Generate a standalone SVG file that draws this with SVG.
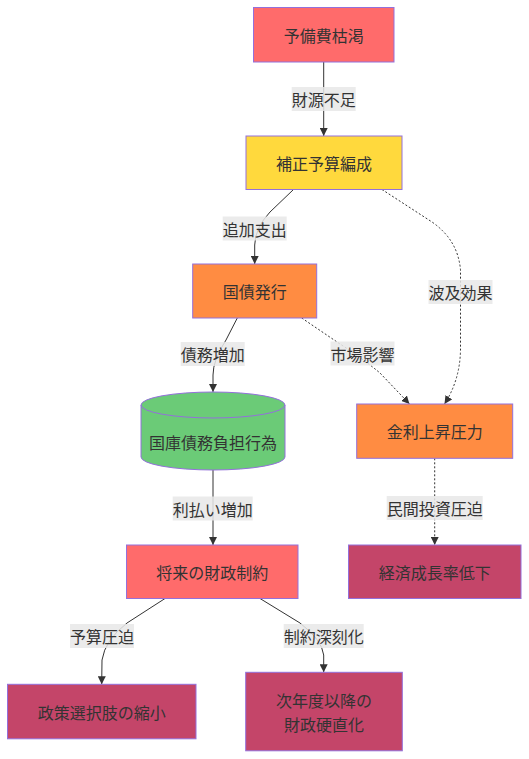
<svg xmlns="http://www.w3.org/2000/svg" width="529" height="759" viewBox="0 0 529 759">
<defs>
<style>
.node rect, .node path { stroke: #9370DB; stroke-width: 1; }
.t { font-family: "Noto Sans CJK JP", "Noto Sans", sans-serif; font-size: 16px; fill: #333; text-anchor: middle; dominant-baseline: central; }
.edge { fill: none; stroke: #333; stroke-width: 1; }
.dot { stroke-dasharray: 2 2; }
.lbl { fill: #e8e8e8; fill-opacity: 0.85; }
.red { fill: #ff6b6b; }
.yel { fill: #ffd93d; }
.org { fill: #ff8c42; }
.grn { fill: #6bcb77; }
.dark { fill: #c44569; }
</style>
<marker id="arr" viewBox="0 0 10 10" refX="10" refY="5" markerWidth="8" markerHeight="8" markerUnits="userSpaceOnUse" orient="auto">
<path d="M0,0 L10,5 L0,10 z" fill="#333"/>
</marker>
</defs>
<rect width="529" height="759" fill="#ffffff"/>

<g id="connectors">
<path class="edge" d="M323.7,62 L323.7,136" marker-end="url(#arr)"/>
<path class="edge" d="M293.5,189.5 L270,212 Q255,228 254.7,245 L254.7,264" marker-end="url(#arr)"/>
<path class="edge" d="M237.3,318 L226,340 Q213,360 213,375 L213,392" marker-end="url(#arr)"/>
<path class="edge dot" d="M301.7,318 L340,344 Q362,358 380,373 L409.5,404" marker-end="url(#arr)"/>
<path class="edge dot" d="M382,189.5 L432,222 Q458,240 460.5,270 L460.5,350 Q460,380 444.5,404" marker-end="url(#arr)"/>
<path class="edge dot" d="M434.7,458.3 L434.7,545" marker-end="url(#arr)"/>
<path class="edge" d="M213,470 L213,545" marker-end="url(#arr)"/>
<path class="edge" d="M165,598.5 L127,623 Q105,640 102,660 L101.7,684.3" marker-end="url(#arr)"/>
<path class="edge" d="M260,598.5 L300,623 Q322,640 323.7,655 L323.7,672.3" marker-end="url(#arr)"/>

<g id="edge-labels">
<rect class="lbl" x="291.7" y="87" width="64" height="24"/>
<text class="t" x="323.7" y="99">財源不足</text>
<rect class="lbl" x="222.7" y="216.5" width="64" height="24"/>
<text class="t" x="254.7" y="228.5">追加支出</text>
<rect class="lbl" x="180.7" y="342" width="64" height="24"/>
<text class="t" x="212.7" y="354">債務増加</text>
<rect class="lbl" x="330.5" y="341.5" width="64" height="24"/>
<text class="t" x="362.5" y="353.5">市場影響</text>
<rect class="lbl" x="428.5" y="280" width="64" height="24"/>
<text class="t" x="460.5" y="292">波及効果</text>
<rect class="lbl" x="386.7" y="496" width="96" height="24"/>
<text class="t" x="434.7" y="508">民間投資圧迫</text>
<rect class="lbl" x="172.7" y="496.5" width="80" height="24"/>
<text class="t" x="212.7" y="508.5">利払い増加</text>
<rect class="lbl" x="70" y="624" width="64" height="24"/>
<text class="t" x="102" y="636">予算圧迫</text>
<rect class="lbl" x="283.7" y="624" width="80" height="24"/>
<text class="t" x="323.7" y="636">制約深刻化</text>
</g>
</g>

<g id="n-yobihi" class="node">
<rect class="red" x="253.5" y="7.5" width="140.5" height="54.5"/>
<text class="t" x="323.7" y="35">予備費枯渇</text>
</g>
<g id="n-hosei" class="node">
<rect class="yel" x="246" y="136" width="156" height="53.5"/>
<text class="t" x="324" y="163">補正予算編成</text>
</g>
<g id="n-kokusai" class="node">
<rect class="org" x="192.7" y="264" width="124" height="54"/>
<text class="t" x="254.7" y="291">国債発行</text>
</g>
<g id="n-kokko" class="node">
<path class="grn" d="M141,405 a72,13 0 0,0 144,0 a72,13 0 0,0 -144,0 l0,52 a72,13 0 0,0 144,0 l0,-52"/>
<text class="t" x="213" y="442">国庫債務負担行為</text>
</g>
<g id="n-kinri" class="node">
<rect class="org" x="356.7" y="404" width="156" height="54.3"/>
<text class="t" x="434.7" y="431">金利上昇圧力</text>
</g>
<g id="n-shorai" class="node">
<rect class="red" x="126.5" y="545" width="171.5" height="53.5"/>
<text class="t" x="212.3" y="572">将来の財政制約</text>
</g>
<g id="n-keizai" class="node">
<rect class="dark" x="348.5" y="545" width="172.5" height="53.5"/>
<text class="t" x="434.7" y="572">経済成長率低下</text>
</g>
<g id="n-seisaku" class="node">
<rect class="dark" x="7.5" y="684.3" width="188.5" height="54.5"/>
<text class="t" x="101.7" y="711.5">政策選択肢の縮小</text>
</g>
<g id="n-jinendo" class="node">
<rect class="dark" x="245.7" y="672.3" width="156.6" height="78.5"/>
<text class="t" x="324" y="700">次年度以降の</text>
<text class="t" x="324" y="723.5">財政硬直化</text>
</g>
</svg>
